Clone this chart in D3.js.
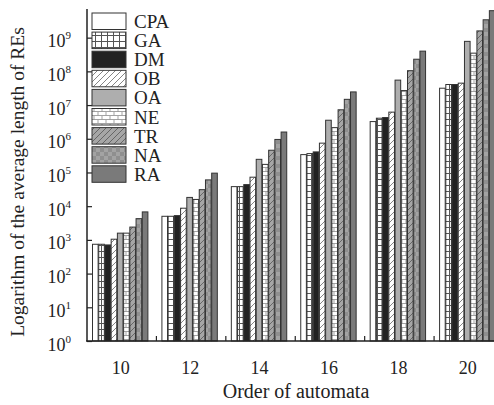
<!DOCTYPE html>
<html><head><meta charset="utf-8">
<script src="https://cdn.jsdelivr.net/npm/d3@7"></script>
<style>body{margin:0;background:#fff}svg{display:block}text{font-family:"Liberation Serif","Times New Roman",serif;fill:#222}</style>
</head><body>
<svg id="c" width="494" height="405"></svg>
<script>
const groups = ["10","12","14","16","18","20"];
const series = ["CPA","GA","DM","OB","OA","NE","TR","NA","RA"];
// log10 of average RE length, per series, per group
const CPA = [2.87, 3.70, 4.58, 5.53, 6.51, 7.50];
const GA  = [2.87, 3.70, 4.58, 5.56, 6.61, 7.61];
const DM  = [2.85, 3.72, 4.64, 5.61, 6.63, 7.61];
const OB  = [3.02, 3.94, 4.86, 5.87, 6.79, 7.65];
const OA  = [3.20, 4.26, 5.39, 6.55, 7.74, 8.89];
const NE  = [3.20, 4.20, 5.24, 6.33, 7.43, 8.54];
const TR  = [3.38, 4.49, 5.66, 6.86, 8.02, 9.20];
const NA  = [3.63, 4.78, 5.98, 7.17, 8.36, 9.53];
const RA  = [3.83, 4.98, 6.20, 7.39, 8.60, 9.80];
const yTickExps = [0,1,2,3,4,5,6,7,8,9];
const xTitle = "Order of automata";
const yTitle = "Logarithm of the average length of REs";

const values = {CPA,GA,DM,OB,OA,NE,TR,NA,RA};
const svg = d3.select("#c");
const defs = svg.append("defs");

function pat(id, w, h, bg, draw){
  const p = defs.append("pattern").attr("id", id).attr("patternUnits","userSpaceOnUse")
    .attr("width", w).attr("height", h);
  p.append("rect").attr("width", w).attr("height", h).attr("fill", bg);
  draw(p);
}
pat("pGA", 6, 6, "#fff", p => {
  p.append("path").attr("d","M0,5.5H6M5.5,0V6").attr("stroke","#555").attr("stroke-width",1);
});
pat("pOB", 6, 6, "#fff", p => {
  p.append("path").attr("d","M0,6L6,0M-1,1L1,-1M5,7L7,5").attr("stroke","#666").attr("stroke-width",0.8);
});
pat("pNE", 8, 8, "#fff", p => {
  p.append("path").attr("d","M0,3.5H8M0,7.5H8M2,0V3.5M6,4V8").attr("stroke","#999").attr("stroke-width",0.9);
});
pat("pTR", 6, 6, "#a6a6a6", p => {
  p.append("path").attr("d","M0,6L6,0M-1,1L1,-1M5,7L7,5").attr("stroke","#555").attr("stroke-width",0.8);
});
pat("pNA", 8, 8, "#a3a3a3", p => {
  p.append("rect").attr("width",4).attr("height",4).attr("fill","#8f8f8f");
  p.append("rect").attr("x",4).attr("y",4).attr("width",4).attr("height",4).attr("fill","#8f8f8f");
});
const fills = {CPA:"#fff", GA:"url(#pGA)", DM:"#222", OB:"url(#pOB)", OA:"#aeaeae",
  NE:"url(#pNE)", TR:"url(#pTR)", NA:"url(#pNA)", RA:"#7a7a7a"};

const x0 = d3.scaleBand().domain(groups).range([87, 503.5]).padding(0);
const x1 = d3.scaleBand().domain(series).range([5, 61]).padding(0);
const y = d3.scaleLinear().domain([0, 9.85]).range([341, 9]);

const g = svg.append("g");
groups.forEach((grp, gi) => {
  series.forEach(s => {
    const v = values[s][gi];
    g.append("rect")
      .attr("x", x0(grp) + x1(s) + 0.5)
      .attr("y", y(v))
      .attr("width", x1.bandwidth() - 0.6)
      .attr("height", y(0) - y(v))
      .attr("fill", fills[s])
      .attr("stroke", "#333").attr("stroke-width", 1);
  });
});

// Y axis
const yAxis = svg.append("g").attr("transform","translate(87,0)")
  .call(d3.axisRight(y).tickValues(yTickExps).tickSize(5).tickFormat(""));
yAxis.select(".domain").remove();
yAxis.selectAll("line").attr("stroke","#222").attr("stroke-width",1.2);
svg.append("line").attr("x1",87).attr("x2",87).attr("y1",y(9.85)).attr("y2",y(0))
  .attr("stroke","#222").attr("stroke-width",1.5);
yTickExps.forEach(e => {
  const t = svg.append("text").attr("x", 71).attr("y", y(e) + 9.5)
    .attr("text-anchor","end").attr("font-size",18);
  t.append("tspan").text("10");
  t.append("tspan").attr("font-size",11).attr("dy",-8).text(e);
});

// X axis
svg.append("line").attr("x1",86).attr("x2",494).attr("y1",y(0)).attr("y2",y(0))
  .attr("stroke","#222").attr("stroke-width",1.5);
const xAxis = svg.append("g").attr("transform",`translate(0,${y(0)})`)
  .call(d3.axisBottom(x0).tickSize(0).tickPadding(20));
xAxis.select(".domain").remove();
xAxis.selectAll("text").attr("font-size",18).attr("fill","#222")
  .attr("font-family",'"Liberation Serif",serif').attr("dx",-1);
groups.slice(1).forEach(grp => {
  svg.append("line").attr("x1",x0(grp)).attr("x2",x0(grp))
    .attr("y1",y(0)).attr("y2",y(0)-5).attr("stroke","#222").attr("stroke-width",1.2);
});

svg.append("text").attr("x",296).attr("y",398).attr("text-anchor","middle")
  .attr("font-size",20).text(xTitle);
svg.append("text").attr("transform","translate(24,182) rotate(-90)").attr("text-anchor","middle")
  .attr("font-size",19.5).text(yTitle);

// Legend
const lg = svg.append("g");
series.forEach((s, i) => {
  const yy = 13 + i * 19.1;
  lg.append("rect").attr("x",92).attr("y",yy).attr("width",34).attr("height",16.5)
    .attr("fill",fills[s]).attr("stroke","#333").attr("stroke-width",1);
  lg.append("text").attr("x",134).attr("y",yy+15).attr("font-size",19).text(s);
});
</script>
</body></html>
